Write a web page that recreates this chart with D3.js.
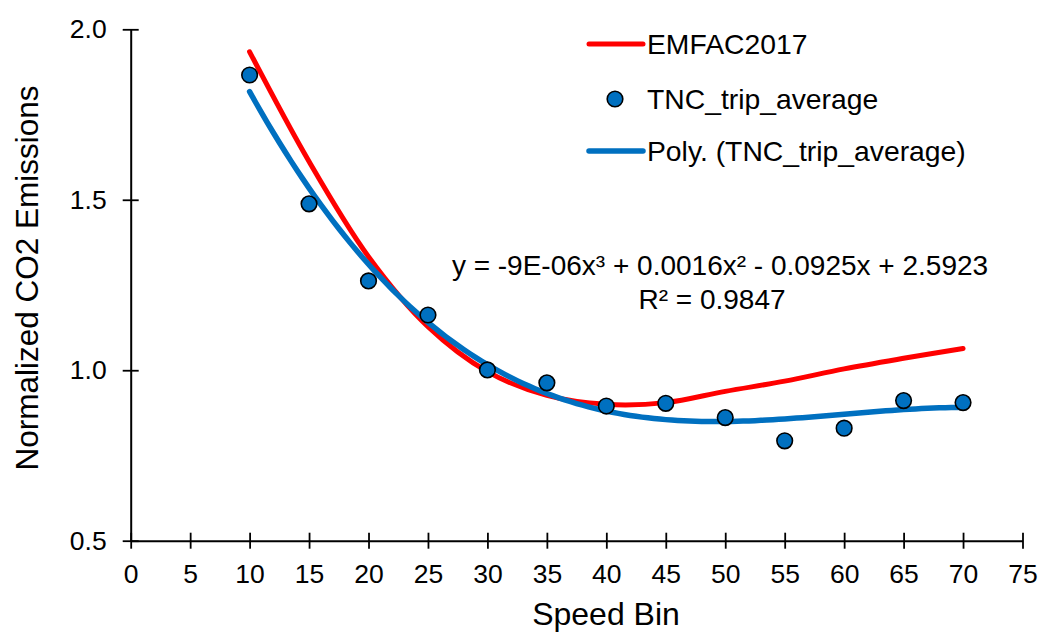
<html>
<head>
<title>CO2 vs speed</title>
<script src="https://d3js.org/d3.v7.min.js"></script>
<style>
body { margin: 0; background: #fff; font-family: Arial, 'Liberation Sans', sans-serif; }
svg text { fill: #000; }
</style>
</head>
<body>
<div id="chart"></div>
<script>

var width = 1040;
var height = 634;

// data
var speedBins = [10, 15, 20, 25, 30, 35, 40, 45, 50, 55, 60, 65, 70];
var tncTripAverage = [1.866, 1.488, 1.262, 1.162, 1.001, 0.963, 0.895, 0.903, 0.861, 0.793, 0.830, 0.911, 0.905];
var emfac2017 = [1.934, 1.612, 1.333, 1.128, 0.996, 0.926, 0.900, 0.905, 0.938, 0.968, 1.004, 1.035, 1.064];
var xTicks = [0, 5, 10, 15, 20, 25, 30, 35, 40, 45, 50, 55, 60, 65, 70, 75];
var yTicks = [0.5, 1.0, 1.5, 2.0];
var legendNames = ["EMFAC2017", "TNC_trip_average", "Poly. (TNC_trip_average)"];

var red = "#ff0000";
var blue = "#0070c0";

var svg = d3.select("#chart")
  .append("svg")
  .attr("width", width)
  .attr("height", height);

var x = d3.scaleLinear().domain([0, 75]).range([130.7, 1022.5]);
var y = d3.scaleLinear().domain([0.5, 2.0]).range([540.7, 29.3]);

//least squares cubic, like the spreadsheet trendline
function polyFit(xs, ys, order) {
  var n = order + 1;
  var A = [], b = [];
  for (var i = 0; i < n; i++) {
    A.push([]);
    for (var j = 0; j < n; j++) {
      A[i].push(d3.sum(xs, v => Math.pow(v, i + j)));
    }
    b.push(d3.sum(xs, (v, k) => Math.pow(v, i) * ys[k]));
  }
  for (var c = 0; c < n; c++) {
    var p = c;
    for (var r = c + 1; r < n; r++) if (Math.abs(A[r][c]) > Math.abs(A[p][c])) p = r;
    [A[c], A[p]] = [A[p], A[c]];
    [b[c], b[p]] = [b[p], b[c]];
    for (var r2 = c + 1; r2 < n; r2++) {
      var f = A[r2][c] / A[c][c];
      for (var k = c; k < n; k++) A[r2][k] -= f * A[c][k];
      b[r2] -= f * b[c];
    }
  }
  var coef = new Array(n).fill(0);
  for (var i2 = n - 1; i2 >= 0; i2--) {
    var s = b[i2];
    for (var j2 = i2 + 1; j2 < n; j2++) s -= A[i2][j2] * coef[j2];
    coef[i2] = s / A[i2][i2];
  }
  return coef;
}

var coef = polyFit(speedBins, tncTripAverage, 3);
var trend = d3.range(speedBins[0], speedBins[speedBins.length - 1] + 0.01, 0.5)
  .map(v => [v, coef[0] + coef[1] * v + coef[2] * v * v + coef[3] * v * v * v]);

// axes, with ticks crossing the line
var xAxis = svg.append("g")
  .attr("transform", "translate(0," + y(0.5) + ")")
  .call(d3.axisBottom(x).tickValues(xTicks).tickSize(8).tickSizeOuter(0).tickPadding(15).tickFormat(d3.format("d")));
xAxis.selectAll(".tick line").attr("y1", -8);

var yAxis = svg.append("g")
  .attr("transform", "translate(" + x(0) + ",0)")
  .call(d3.axisLeft(y).tickValues(yTicks).tickSize(8).tickSizeOuter(0).tickPadding(16).tickFormat(d3.format(".1f")));
yAxis.selectAll(".tick line").attr("x1", 8);

svg.selectAll(".domain").attr("stroke", "#000").attr("stroke-width", 2);
svg.selectAll(".tick line").attr("stroke", "#000").attr("stroke-width", 1.8);
svg.selectAll(".tick text")
  .style("font-family", "Arial, 'Liberation Sans', sans-serif")
  .style("font-size", "26.5px")
  .attr("fill", "#000");

svg.append("text")
  .attr("x", 606)
  .attr("y", 625)
  .attr("text-anchor", "middle")
  .style("font-size", "32px")
  .text("Speed Bin");

svg.append("text")
  .attr("transform", "translate(38,278) rotate(-90)")
  .attr("text-anchor", "middle")
  .style("font-size", "31.5px")
  .text("Normalized CO2 Emissions");

// EMFAC line
var smooth = d3.line()
  .x(d => x(d[0]))
  .y(d => y(d[1]))
  .curve(d3.curveCatmullRom.alpha(0.5));

svg.append("path")
  .datum(speedBins.map((s, i) => [s, emfac2017[i]]))
  .attr("d", smooth)
  .attr("fill", "none")
  .attr("stroke", red)
  .attr("stroke-width", 5)
  .attr("stroke-linecap", "round");

// trendline
svg.append("path")
  .datum(trend)
  .attr("d", d3.line().x(d => x(d[0])).y(d => y(d[1])))
  .attr("fill", "none")
  .attr("stroke", blue)
  .attr("stroke-width", 5.5)
  .attr("stroke-linecap", "round");

// points
svg.selectAll("circle.pt")
  .data(speedBins.map((s, i) => [s, tncTripAverage[i]]))
  .enter()
    .append("circle")
    .attr("class", "pt")
    .attr("cx", d => x(d[0]))
    .attr("cy", d => y(d[1]))
    .attr("r", 7.8)
    .attr("fill", blue)
    .attr("stroke", "#000")
    .attr("stroke-width", 1.6);

// legend
var legend = svg.append("g").style("font-size", "28.3px");
var rowY = [44, 99, 151];
legend.append("line")
  .attr("x1", 589).attr("x2", 643).attr("y1", rowY[0]).attr("y2", rowY[0])
  .attr("stroke", red).attr("stroke-width", 5).attr("stroke-linecap", "round");
legend.append("circle")
  .attr("cx", 615).attr("cy", rowY[1]).attr("r", 7.8)
  .attr("fill", blue).attr("stroke", "#000").attr("stroke-width", 1.6);
legend.append("line")
  .attr("x1", 589).attr("x2", 643).attr("y1", rowY[2]).attr("y2", rowY[2])
  .attr("stroke", blue).attr("stroke-width", 5.5).attr("stroke-linecap", "round");
legend.selectAll("text")
  .data(legendNames)
  .enter()
    .append("text")
    .attr("x", 647)
    .attr("y", (d, i) => rowY[i] + 10)
    .text(d => d);

// equation label
var eq = svg.append("g").style("font-size", "28px").attr("text-anchor", "middle");
eq.append("text")
  .attr("x", 720).attr("y", 275)
  .text("y = -9E-06x³ + 0.0016x² - 0.0925x + 2.5923");
eq.append("text")
  .attr("x", 712).attr("y", 309)
  .text("R² = 0.9847");

</script>
</body>
</html>
